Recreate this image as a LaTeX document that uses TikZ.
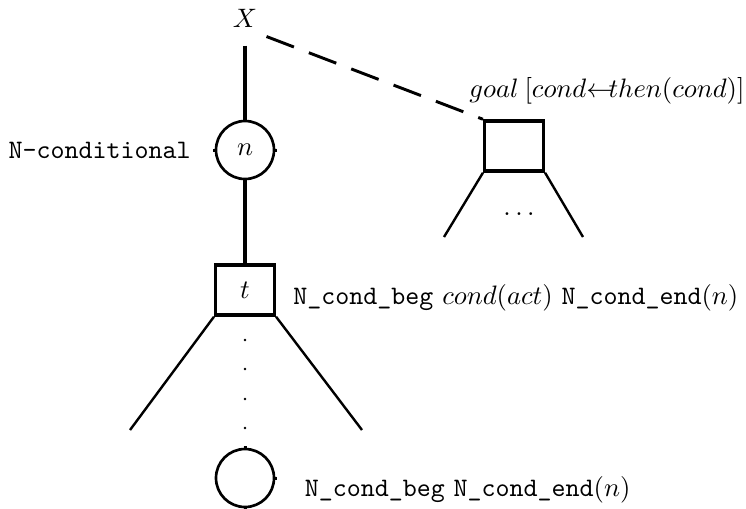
\documentclass[tikz,border=0pt]{standalone}
\usepackage{amsmath}
\usepackage{tikz}
\usetikzlibrary{positioning}

\begin{document}
\begin{tikzpicture}[x=0.375pt,y=-0.375pt,
        leaf/.style={draw,circle,line width=1pt,minimum size=21.75pt,inner sep=0pt},
        act/.style={draw,rectangle,line width=1.3pt,minimum width=22pt,minimum height=18.75pt,inner sep=0pt},
        branch/.style={line width=0.9pt},
        stem/.style={line width=1.3pt},
        tick/.style={line width=1.4pt}]
    \useasboundingbox (0,0) rectangle (746,508);
    \node (X) at (245,18) {$X$};
    \node[leaf] (n) at (245,150) {$n$};
    \node[act] (t) at (245,290) {$t$};
    \node[leaf] (m) at (245,478) {};
    \node[act] (g) at (514,146) {};
    \coordinate (tl) at (130,430);
    \coordinate (tr) at (362,430);
    \coordinate (gl) at (444,237);
    \coordinate (gr) at (583,237);
    \node[left=5.5pt of n] (ncond) {\texttt{N-conditional}};
    \node[right=3pt of t, yshift=-3pt] (tlab) {\texttt{N\_cond\_beg} $cond(act)$ \texttt{N\_cond\_end}$(n)$};
    \node[right=7.5pt of m, yshift=-4.5pt] (mlab) {\texttt{N\_cond\_beg} \texttt{N\_cond\_end}$(n)$};
    \node[anchor=south west, inner sep=0pt, xshift=-5.25pt, yshift=5.6pt] (glab) at (g.north west) {$goal\:[cond{\leftarrow}\!then(cond)]$};
    \node (gdots) at (519,214) {$\ldots$};
    \path[stem] 
        (X) edge [shorten <=3.4pt] (n)
        (n) edge (t);
    \path[branch]
        (t.south west) edge (tl)
        (t.south east) edge (tr)
        (g.south west) edge (gl)
        (g.south east) edge (gr);
    \draw[line width=1.1pt, dash pattern=on 11pt off 6pt] (X.south east) -- (g.north west);
    \foreach \yy in {340,369,399,428}
        \fill (245,\yy) circle (0.55pt);
    % small marks on the circles
    \foreach \a in {west,east}
        \draw[tick] (n.\a) ++(0,-1.5) -- ++(0,3);
    \foreach \a in {north,south}
        \draw[tick] (m.\a) ++(-1.5,0) -- ++(3,0);
    \draw[tick] (m.east) ++(0,-1.5) -- ++(0,3);
\end{tikzpicture}
\end{document}
